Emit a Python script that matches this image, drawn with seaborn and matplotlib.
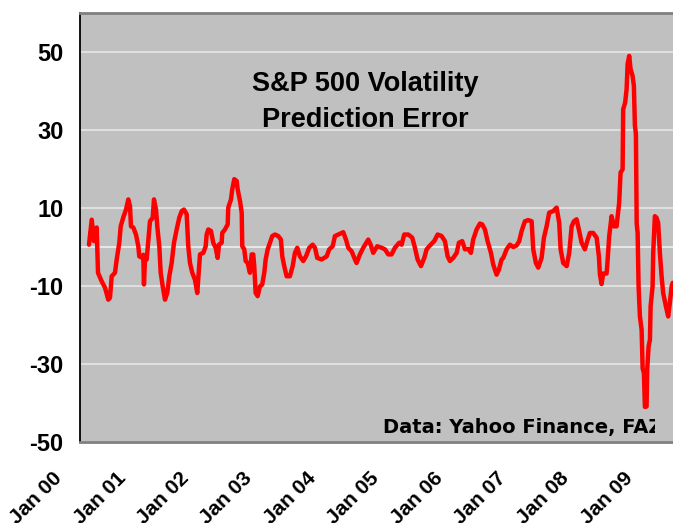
import matplotlib
matplotlib.use("Agg")
import matplotlib.pyplot as plt
from matplotlib.transforms import Bbox, TransformedBbox, ScaledTranslation
import seaborn as sns

sns.set_style("white")
plt.rcParams["font.family"] = ["Liberation Sans", "DejaVu Sans"]
plt.rcParams["font.weight"] = "bold"
plt.rcParams["text.color"] = "black"
plt.rcParams["xtick.color"] = "black"
plt.rcParams["ytick.color"] = "black"

# decimal year of each reading and the prediction error
years = [
    2000.142, 2000.185, 2000.221, 2000.263, 2000.284, 2000.342, 2000.394, 2000.446,
    2000.473, 2000.500, 2000.552, 2000.579, 2000.620, 2000.642, 2000.683, 2000.726,
    2000.762, 2000.789, 2000.804, 2000.841, 2000.883, 2000.920, 2000.935, 2000.973,
    2000.998, 2001.009, 2001.025, 2001.052, 2001.077, 2001.104, 2001.147, 2001.167,
    2001.199, 2001.219, 2001.251, 2001.273, 2001.304, 2001.341, 2001.377, 2001.409,
    2001.446, 2001.483, 2001.525, 2001.566, 2001.604, 2001.640, 2001.683, 2001.708,
    2001.735, 2001.771, 2001.814, 2001.850, 2001.877, 2001.893, 2001.945, 2001.983,
    2001.998, 2002.024, 2002.066, 2002.102, 2002.140, 2002.172, 2002.192, 2002.235,
    2002.244, 2002.287, 2002.330, 2002.339, 2002.382, 2002.402, 2002.434, 2002.472,
    2002.487, 2002.524, 2002.551, 2002.560, 2002.591, 2002.614, 2002.645, 2002.681,
    2002.708, 2002.733, 2002.749, 2002.771, 2002.803, 2002.839, 2002.875, 2002.907,
    2002.929, 2002.961, 2002.997, 2003.033, 2003.076, 2003.128, 2003.170, 2003.191,
    2003.222, 2003.260, 2003.312, 2003.355, 2003.391, 2003.427, 2003.470, 2003.522,
    2003.565, 2003.617, 2003.670, 2003.707, 2003.743, 2003.812, 2003.891, 2003.932,
    2003.986, 2004.022, 2004.074, 2004.153, 2004.196, 2004.232, 2004.285, 2004.338,
    2004.363, 2004.416, 2004.468, 2004.547, 2004.585, 2004.626, 2004.689, 2004.759,
    2004.811, 2004.863, 2004.916, 2004.968, 2005.036, 2005.074, 2005.115, 2005.178,
    2005.241, 2005.284, 2005.326, 2005.379, 2005.431, 2005.468, 2005.521, 2005.588,
    2005.642, 2005.705, 2005.757, 2005.800, 2005.836, 2005.888, 2005.942, 2005.978,
    2006.030, 2006.073, 2006.125, 2006.167, 2006.203, 2006.257, 2006.309, 2006.345,
    2006.388, 2006.430, 2006.483, 2006.519, 2006.572, 2006.609, 2006.651, 2006.677,
    2006.730, 2006.782, 2006.834, 2006.888, 2006.929, 2006.967, 2007.019, 2007.071,
    2007.125, 2007.150, 2007.192, 2007.229, 2007.282, 2007.319, 2007.361, 2007.402,
    2007.465, 2007.519, 2007.560, 2007.582, 2007.623, 2007.677, 2007.718, 2007.756,
    2007.792, 2007.834, 2007.875, 2007.913, 2007.965, 2008.002, 2008.044, 2008.096,
    2008.150, 2008.186, 2008.202, 2008.228, 2008.254, 2008.307, 2008.317, 2008.349,
    2008.386, 2008.423, 2008.465, 2008.506, 2008.528, 2008.560, 2008.569, 2008.601,
    2008.623, 2008.639, 2008.664, 2008.686, 2008.717, 2008.738, 2008.754, 2008.770,
    2008.782, 2008.797, 2008.812, 2008.833, 2008.860, 2008.876, 2008.896, 2008.912,
    2008.938, 2008.948, 2008.970, 2008.991, 2009.002, 2009.033, 2009.043, 2009.069,
    2009.096, 2009.121, 2009.148, 2009.175, 2009.200, 2009.243, 2009.279, 2009.306,
    2009.333, 2009.349,
]
errors = [
    0.6, 7.0, 1.5, 5.0, -6.6, -8.8, -10.4, -13.5,
    -13.0, -7.5, -6.6, -3.2, 1.1, 5.3, 7.6, 9.6,
    12.2, 10.5, 5.3, 5.0, 3.2, 0.2, -2.4, -2.7,
    -2.0, -9.6, -3.2, -3.2, 1.5, 6.6, 7.5, 12.2,
    9.6, 5.3, 0.2, -6.6, -10.0, -13.5, -11.7, -7.5,
    -4.1, 1.1, 4.5, 7.5, 9.2, 9.6, 8.4, 0.2,
    -4.1, -6.6, -8.4, -11.8, -5.8, -1.9, -1.5, 0.2,
    3.2, 4.5, 4.1, 1.1, -0.2, -2.8, 0.6, 1.1,
    3.6, 4.5, 5.8, 10.1, 12.2, 14.8, 17.4, 16.9,
    14.8, 11.8, 8.8, 0.2, -0.6, -3.6, -4.1, -6.6,
    -1.9, -1.9, -4.9, -11.8, -12.6, -10.1, -9.6, -6.6,
    -3.2, -0.6, 1.1, 2.8, 3.2, 2.8, 1.9, -2.4,
    -4.9, -7.5, -7.5, -4.9, -1.5, -0.2, -2.4, -3.6,
    -2.4, -0.2, 0.6, -0.2, -2.8, -3.2, -2.4, -0.6,
    0.2, 2.8, 3.2, 3.8, 1.9, -0.2, -1.1, -3.2,
    -4.1, -1.9, -0.2, 1.9, 0.6, -1.5, 0.2, -0.2,
    -0.6, -1.9, -1.9, -0.2, 1.1, 0.6, 3.2, 3.2,
    2.4, -0.2, -3.2, -4.9, -2.8, -0.6, 0.4, 1.5,
    3.2, 2.8, 1.5, -2.4, -3.6, -2.8, -1.5, 1.1,
    1.5, -0.6, -0.5, -1.5, 1.9, 4.5, 6.0, 5.8,
    4.5, 1.5, -1.5, -4.5, -7.1, -5.8, -3.2, -2.8,
    -0.6, 0.6, 0.0, 0.4, 1.5, 4.1, 6.6, 6.9,
    6.6, -0.6, -4.1, -5.3, -2.8, 2.4, 5.3, 8.8,
    9.2, 10.1, 6.2, -0.6, -4.1, -4.9, -1.5, 5.3,
    6.6, 7.1, 4.1, 1.1, -0.6, 1.5, 3.6, 3.6,
    2.4, -2.4, -7.0, -9.5, -6.8, -6.8, -4.9, 2.8,
    7.9, 5.3, 5.3, 11.4, 19.1, 19.9, 35.3, 37.1,
    40.5, 46.9, 49.0, 45.6, 43.9, 41.3, 31.1, 29.0,
    6.0, 3.6, -10.1, -17.8, -21.2, -31.1, -32.4, -41.0,
    -40.9, -31.5, -25.5, -23.8, -15.2, -10.1, -1.5, 7.9,
    7.5, 6.2, -1.5, -7.5, -11.8, -15.2, -17.8, -14.3,
    -10.1, -9.2,
]

tick_years = [2000, 2001, 2002, 2003, 2004, 2005, 2006, 2007, 2008, 2009]
tick_labels = ["Jan 00", "Jan 01", "Jan 02", "Jan 03", "Jan 04",
               "Jan 05", "Jan 06", "Jan 07", "Jan 08", "Jan 09"]
y_ticks = [-50, -30, -10, 10, 30, 50]

fig = plt.figure(figsize=(6.73, 5.23), dpi=100)
ax = fig.add_axes([80 / 673, 1 - 442 / 523, 593 / 673, 429 / 523])
ax.set_facecolor("#c0c0c0")

for yv in y_ticks:
    ax.axhline(yv, color="#e6e6e6", lw=1.2, zorder=1)
ax.axhline(0, color="#f0f0f0", lw=1.2, zorder=1)

sns.lineplot(x=years, y=errors, ax=ax, color="#ff0000", lw=3.2,
             estimator=None, sort=False, zorder=3)

ax.set_xlim(2000, 2009.355)
ax.set_ylim(-50, 60)
ax.set_yticks(y_ticks)
ax.set_yticklabels([str(v) for v in y_ticks], fontsize=17, fontweight="bold")
ax.set_xticks(tick_years)
ax.set_xticklabels(tick_labels, fontsize=15, fontweight="bold",
                   rotation=45, ha="right", va="top")
ax.tick_params(axis="x", length=0, pad=19)
ax.tick_params(axis="y", length=8, width=1.2, color="black", pad=4, direction="out")
shift = ScaledTranslation(-14 / 100, 0, fig.dpi_scale_trans)
for lab in ax.get_xticklabels():
    lab.set_transform(lab.get_transform() + shift)
ax.set_xlabel("")
ax.set_ylabel("")

for side in ["top", "bottom"]:
    ax.spines[side].set_color("#808080")
    ax.spines[side].set_linewidth(2)
ax.spines["left"].set_color("black")
ax.spines["left"].set_linewidth(1.3)
ax.spines["right"].set_visible(False)

ax.text(0.4806, 0.818, "S&P 500 Volatility", transform=ax.transAxes,
        ha="center", va="baseline", fontsize=19.5, fontweight="bold", color="black")
ax.text(0.4806, 0.734, "Prediction Error", transform=ax.transAxes,
        ha="center", va="baseline", fontsize=19.5, fontweight="bold", color="black")

src = ax.text(0.511, 0.022, "Data: Yahoo Finance, FAZ", transform=ax.transAxes,
              ha="left", va="baseline", fontsize=14, fontweight="bold",
              family="DejaVu Sans", color="black", zorder=4)
src.set_clip_on(True)
src.set_clip_path(None)
src.set_clip_box(TransformedBbox(Bbox([[0, 0], [655 / 673, 1]]), fig.transFigure))

fig.savefig("out.png", dpi=100)
